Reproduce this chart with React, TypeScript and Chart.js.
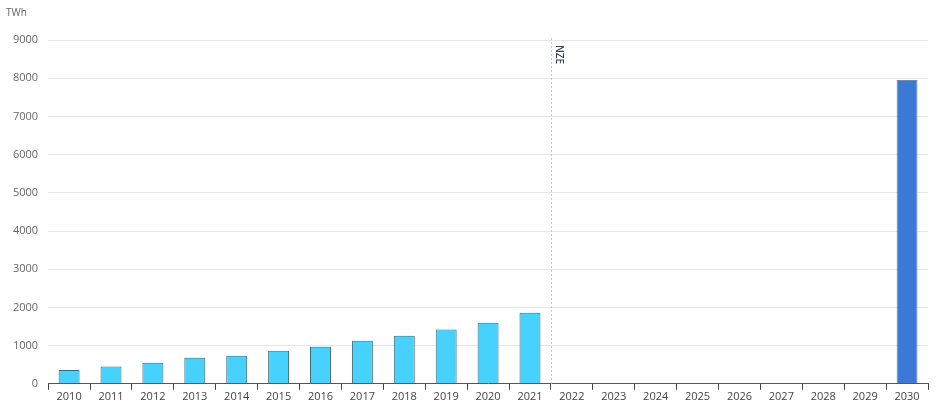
import React, { useEffect, useRef } from "react";
import { Chart, registerables } from "chart.js";

Chart.register(...registerables);

const years = ["2010","2011","2012","2013","2014","2015","2016","2017","2018","2019","2020","2021","2022","2023","2024","2025","2026","2027","2028","2029","2030"];
const historical = [360, 450, 550, 680, 735, 865, 970, 1130, 1260, 1420, 1600, 1860, null, null, null, null, null, null, null, null, null];
const nze = [null, null, null, null, null, null, null, null, null, null, null, null, null, null, null, null, null, null, null, null, 7950];
const unitLabel = "TWh";
const markerLabel = "NZE";
const markerAfter = "2021";

const FONT = "'Open Sans', sans-serif";

const overlay = {
  id: "overlay",
  afterDraw(chart: any) {
    const { ctx, chartArea, scales } = chart;
    const xs = scales.x;
    const i = years.indexOf(markerAfter);
    const x = Math.round((xs.getPixelForValue(i) + xs.getPixelForValue(i + 1)) / 2) + 0.5;
    ctx.save();
    ctx.strokeStyle = "#c8c8c8";
    ctx.lineWidth = 1;
    ctx.setLineDash([2, 2]);
    ctx.beginPath();
    ctx.moveTo(x, chartArea.top - 2);
    ctx.lineTo(x, chartArea.bottom);
    ctx.stroke();
    ctx.setLineDash([]);
    ctx.translate(x + 7, chartArea.top + 5);
    ctx.rotate(Math.PI / 2);
    ctx.fillStyle = "#3a3f5c";
    ctx.font = "600 10px " + FONT;
    ctx.textBaseline = "middle";
    ctx.textAlign = "left";
    ctx.fillText(markerLabel, 0, 0);
    ctx.restore();
    ctx.save();
    ctx.fillStyle = "#666";
    ctx.font = "10px " + FONT;
    ctx.textBaseline = "middle";
    ctx.fillText(unitLabel, 6, 13);
    ctx.restore();
  },
};

export default function App() {
  const ref = useRef<HTMLCanvasElement>(null);
  useEffect(() => {
    document.body.style.margin = "0";
    const chart = new Chart(ref.current!, {
      type: "bar",
      data: {
        labels: years,
        datasets: [
          {
            label: "Historical",
            data: historical,
            backgroundColor: "#47d1fd",
            borderColor: "#3c6878",
            borderWidth: 1,
            barPercentage: 0.5,
            categoryPercentage: 1,
            grouped: false,
          },
          {
            label: "NZE",
            data: nze,
            backgroundColor: "#3c79d6",
            borderColor: "#7a8a9a",
            borderWidth: 1,
            barPercentage: 0.5,
            categoryPercentage: 1,
            grouped: false,
          },
        ] as any,
      },
      options: {
        animation: false,
        responsive: false,
        maintainAspectRatio: false,
        layout: { padding: { top: 40, left: 3, right: 12, bottom: 0 } },
        plugins: { legend: { display: false }, tooltip: { enabled: false } },
        scales: {
          x: {
            grid: { display: true, offset: true, drawOnChartArea: false, drawTicks: true, tickLength: 6, color: "#444" },
            border: { display: true, color: "#555", width: 1 },
            ticks: { color: "#444", font: { family: FONT, size: 11 }, padding: 0, maxRotation: 0, autoSkip: false },
          },
          y: {
            min: 0,
            max: 9000,
            grid: { color: "#e6e6e6", drawTicks: false },
            border: { display: false },
            ticks: { stepSize: 1000, color: "#666", font: { family: FONT, size: 11 }, padding: 10, callback: (v: any) => String(v) },
          },
        },
      },
      plugins: [overlay],
    });
    return () => chart.destroy();
  }, []);
  return (
    <div style={{ position: "absolute", left: 0, top: 0, width: 940, height: 403 }}>
      <canvas ref={ref} width={940} height={403} style={{ width: 940, height: 403 }} />
    </div>
  );
}
